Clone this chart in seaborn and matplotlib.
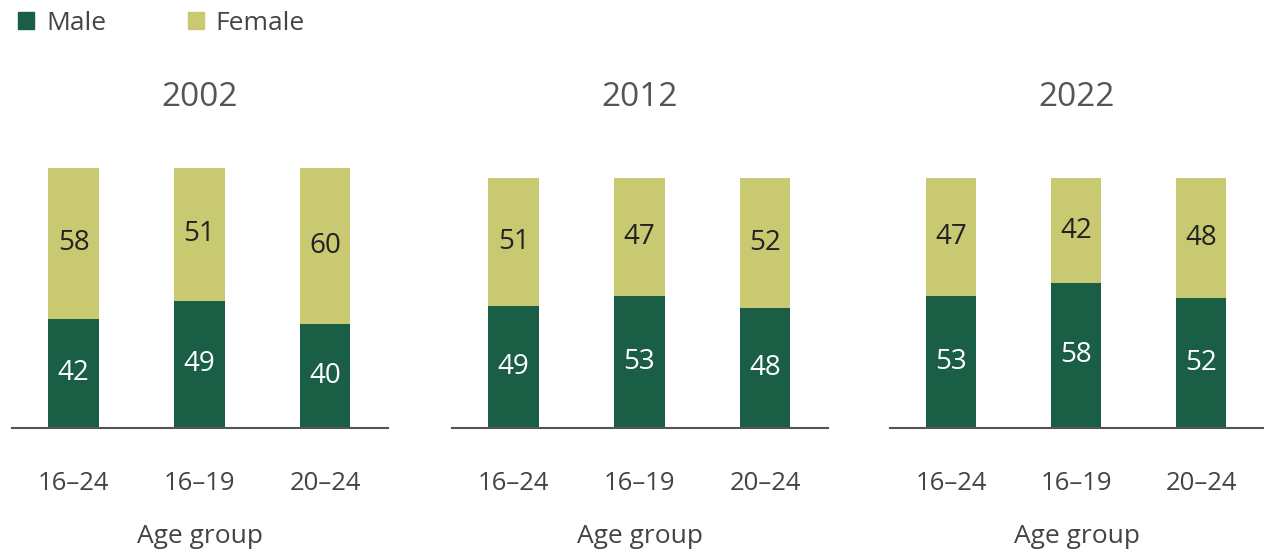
import pandas as pd
import matplotlib.pyplot as plt
import seaborn as sns
from matplotlib.patches import Patch

years = ["2002", "2012", "2022"]
age_groups = ["16–24", "16–19", "20–24"]
male = {"2002": [42, 49, 40], "2012": [49, 53, 48], "2022": [53, 58, 52]}
female = {"2002": [58, 51, 60], "2012": [51, 47, 52], "2022": [47, 42, 48]}

male_color = "#1a5e45"
female_color = "#c9c972"
text_color = "#444444"

sns.set_style("white")
plt.rcParams["font.family"] = ["Open Sans", "DejaVu Sans"]

fig = plt.figure(figsize=(12.64, 5.52), dpi=100)

# panel boxes in pixels: left, width, plot height
panels = {"2002": (12, 376, 260), "2012": (452, 376, 250), "2022": (890, 374, 250)}
base = 428

for yr in years:
    left, width, h = panels[yr]
    ax = fig.add_axes([left / 1264, 1 - base / 552, width / 1264, h / 552])
    df = pd.DataFrame({"age": age_groups, "male": male[yr], "female": female[yr]})
    df["total"] = df["male"] + df["female"]
    sns.barplot(data=df, x="age", y="total", color=female_color, width=0.4,
                saturation=1, linewidth=0, ax=ax)
    sns.barplot(data=df, x="age", y="male", color=male_color, width=0.4,
                saturation=1, linewidth=0, ax=ax)
    for i, row in df.iterrows():
        ax.text(i, row["male"] / 2, str(row["male"]), ha="center", va="center",
                color="white", fontsize=20)
        ax.text(i, row["male"] + row["female"] / 2, str(row["female"]),
                ha="center", va="center", color="#222222", fontsize=20)
    ax.set_ylim(0, 100)
    ax.set_xlim(-0.49, 2.5)
    ax.set_yticks([])
    ax.set_ylabel("")
    ax.set_xlabel("Age group", fontsize=19, color=text_color, labelpad=20)
    ax.tick_params(axis="x", length=0, labelsize=18.5, labelcolor=text_color, pad=31)
    for s in ["top", "right", "left"]:
        ax.spines[s].set_visible(False)
    ax.spines["bottom"].set_color("#555555")
    ax.spines["bottom"].set_linewidth(1.5)
    fig.text((left + width / 2) / 1264, 1 - 98 / 552, yr, ha="center", va="center",
             fontsize=24, color="#555555")

handles = [Patch(color=male_color, label="Male"), Patch(color=female_color, label="Female")]
fig.legend(handles=handles, loc="upper left", bbox_to_anchor=(0.0, 1.014), ncol=2,
           frameon=False, fontsize=19, handlelength=0.6, handleheight=0.6,
           handletextpad=0.45, columnspacing=3.1, labelcolor=text_color,
           borderaxespad=0.3)

fig.savefig("out.png", dpi=100)
